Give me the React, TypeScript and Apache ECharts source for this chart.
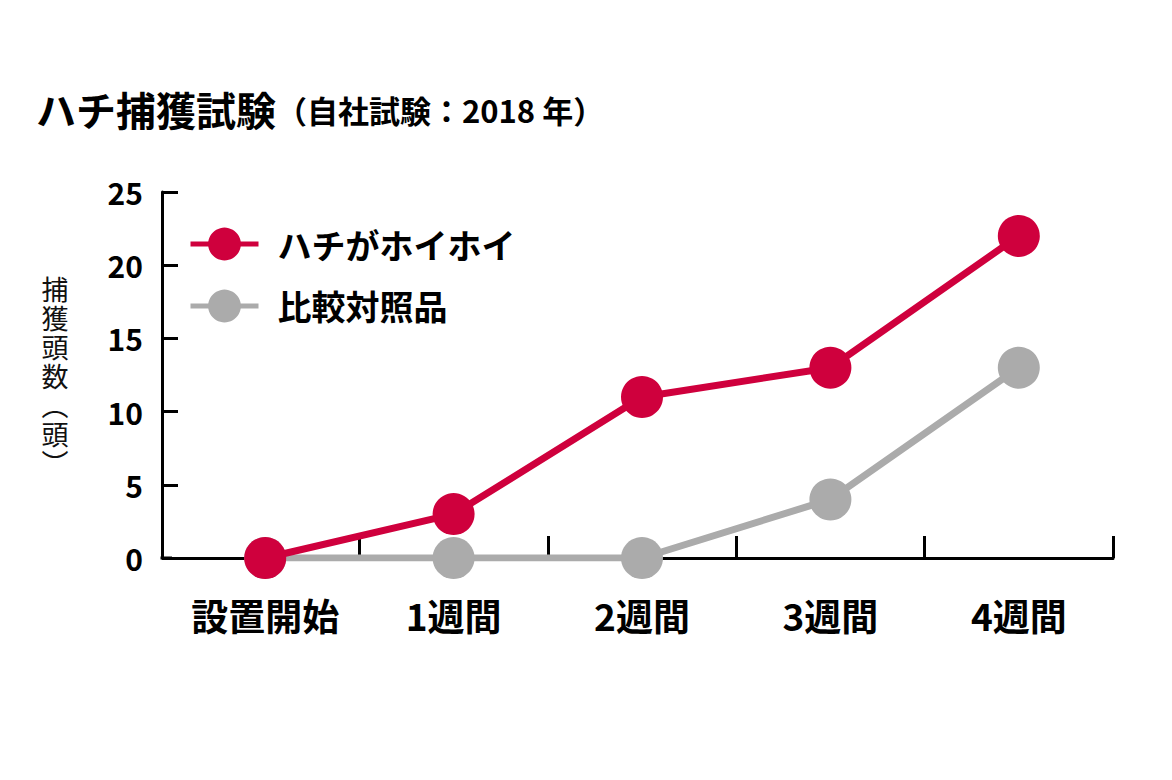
import React, { useEffect, useRef } from "react";
import * as echarts from "echarts";

const categories = ["設置開始", "1週間", "2週間", "3週間", "4週間"];
const hoiHoi = [0, 3, 11, 13, 22];
const control = [0, 0, 0, 4, 13];
const seriesNames = ["ハチがホイホイ", "比較対照品"];
const titleMain = "ハチ捕獲試験";
const titleSub = "（自社試験：2018 年）";
const yName = "捕獲頭数︵頭︶";
const yMin = 0;
const yMax = 25;
const yInterval = 5;

const RED = "#CF003D";
const GRAY = "#ABABAB";
const FONT = "'Noto Sans CJK JP', 'Noto Sans', sans-serif";

const GRID_LEFT = 171;
const GRID_RIGHT = 59;
const GRID_TOP = 192;
const GRID_BOTTOM = 222;
const Y_OFFSET = 9;

export default function App() {
  const ref = useRef<HTMLDivElement>(null);
  useEffect(() => {
    if (!ref.current) return;
    const chart = echarts.init(ref.current, null, { renderer: "svg" });
    const H = 780;
    chart.setOption({
      animation: false,
      backgroundColor: "#ffffff",
      textStyle: { fontFamily: FONT },
      title: {
        text: titleMain + "{s|" + titleSub + "}",
        left: 31,
        top: 84,
        textStyle: {
          fontFamily: FONT,
          fontSize: 40,
          fontWeight: "bold",
          color: "#000",
          rich: {
            s: { fontFamily: FONT, fontSize: 31, fontWeight: "bold", color: "#000" },
          },
        },
      },
      legend: {
        orient: "vertical",
        left: 188,
        top: 227,
        padding: 0,
        itemWidth: 68,
        itemHeight: 41,
        itemGap: 28,
        lineStyle: { width: 5 },
        textStyle: {
          fontFamily: FONT,
          fontSize: 34,
          fontWeight: "bold",
          color: "#000",
          padding: [0, 0, 0, 14],
        },
        data: seriesNames,
      },
      grid: {
        left: GRID_LEFT,
        right: GRID_RIGHT,
        top: GRID_TOP,
        bottom: GRID_BOTTOM,
        containLabel: false,
      },
      xAxis: {
        type: "category",
        data: categories,
        boundaryGap: true,
        axisLine: { show: true, lineStyle: { color: "#000", width: 3 } },
        axisTick: {
          show: true,
          inside: true,
          length: 22,
          interval: (i: number) => i > 0,
          lineStyle: { color: "#000", width: 3 },
        },
        axisLabel: {
          interval: 0,
          hideOverlap: false,
          margin: 38,
          fontFamily: FONT,
          fontSize: 37,
          fontWeight: "bold",
          color: "#000",
        },
        splitLine: { show: false },
      },
      yAxis: {
        type: "value",
        min: yMin,
        max: yMax,
        interval: yInterval,
        offset: Y_OFFSET,
        name: yName.split("").join("\n"),
        nameLocation: "middle",
        nameRotate: 0,
        nameGap: 107,
        nameTextStyle: {
          fontFamily: FONT,
          fontSize: 27,
          lineHeight: 29,
          color: "#111",
          align: "center",
          verticalAlign: "middle",
        },
        axisLine: { show: true, lineStyle: { color: "#000", width: 3 } },
        axisTick: {
          show: true,
          inside: true,
          length: 16,
          lineStyle: { color: "#000", width: 3 },
        },
        axisLabel: {
          margin: 19,
          fontFamily: FONT,
          fontSize: 30,
          fontWeight: "bold",
          color: "#000",
        },
        splitLine: { show: false },
      },
      graphic: [
        {
          type: "line",
          shape: {
            x1: GRID_LEFT - Y_OFFSET - 1.5,
            y1: H - GRID_BOTTOM,
            x2: GRID_LEFT + 1,
            y2: H - GRID_BOTTOM,
          },
          style: { stroke: "#000", lineWidth: 3 },
          z: 1,
        },
      ],
      series: [
        {
          name: seriesNames[0],
          type: "line",
          data: hoiHoi,
          symbol: "circle",
          symbolSize: 42,
          color: RED,
          lineStyle: { color: RED, width: 7 },
          itemStyle: { color: RED },
          z: 4,
        },
        {
          name: seriesNames[1],
          type: "line",
          data: control,
          symbol: "circle",
          symbolSize: 42,
          color: GRAY,
          lineStyle: { color: GRAY, width: 7 },
          itemStyle: { color: GRAY },
          z: 3,
        },
      ],
    });
    return () => chart.dispose();
  }, []);
  return <div ref={ref} style={{ width: 1172, height: 780, margin: -8 }} />;
}
